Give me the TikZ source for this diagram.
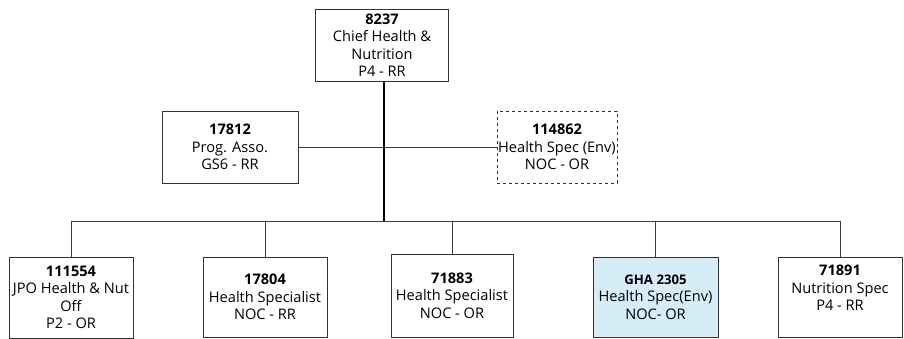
\documentclass[tikz,border=0pt]{standalone}
\usepackage{fontspec}
\setmainfont{Open Sans}
\definecolor{boxline}{RGB}{50,50,50}
\definecolor{conn}{RGB}{60,60,60}
\definecolor{hilite}{RGB}{214,236,247}
\begin{document}
\begin{tikzpicture}[x=1pt,y=-1pt,
  box/.style={draw=boxline,line width=0.8pt,fill=white,inner sep=0pt,align=center,
    font=\fontsize{14.6}{17.5}\selectfont},
  txt/.style={inner sep=0pt,align=center,font=\fontsize{14.6}{17.5}\selectfont},
  conn/.style={draw=conn,line width=0.8pt},
  main/.style={draw=black,line width=1.6pt}]
\useasboundingbox (0,0) rectangle (904,339);
\coordinate (bus) at (384,221);
% boxes
\node[box,minimum width=133,minimum height=72] (top) at (382,45) {\textbf{8237}\\Chief Health \&\\Nutrition\\P4 - RR};
\node[box,minimum width=136,minimum height=72] (p1) at (230,147) {\textbf{17812}\\Prog. Asso.\\GS6 - RR};
\node[box,dashed,minimum width=120,minimum height=72] (p2) at (557,147) {\textbf{114862}\\Health Spec (Env)\\NOC - OR};
\node[box,minimum width=124,minimum height=81] (b1) at (71,297.5) {\textbf{111554}\\JPO Health \& Nut\\Off\\P2 - OR};
\node[box,minimum width=124,minimum height=80] (b2) at (265,297) {\textbf{17804}\\Health Specialist\\NOC - RR};
\node[box,minimum width=122,minimum height=83] (b3) at (452,295.5) {\textbf{71883}\\Health Specialist\\NOC - OR};
\node[box,fill=hilite,minimum width=125,minimum height=80] (b4) at (655.5,297) {{\fontsize{13.2}{17.5}\selectfont\textbf{GHA 2305}}\\Health Spec(Env)\\NOC- OR};
\node[box,minimum width=124,minimum height=80] (b5) at (840,297) {};
\node[txt] (t5) at (840,288) {\textbf{71891}\\Nutrition Spec\\P4 - RR};
% connectors
\draw[conn] (p1.east) -- (p2.west);
\draw[main] (top.south -| bus) -- (bus);
\draw[conn] (b1.north) |- (bus);
\draw[conn] (b2.north) |- (bus);
\draw[conn] (b3.north) |- (bus);
\draw[conn] (b4.north) |- (bus);
\draw[conn] (b5.north) |- (bus);
\end{tikzpicture}
\end{document}
